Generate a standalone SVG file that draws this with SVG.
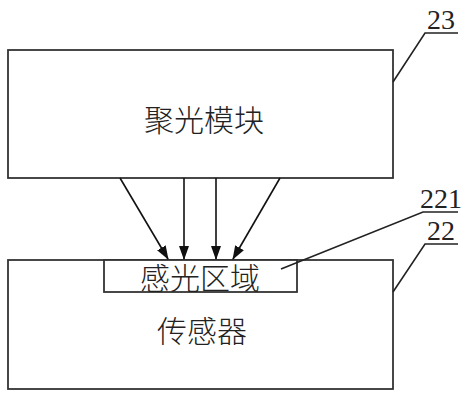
<svg xmlns="http://www.w3.org/2000/svg" width="472" height="400" viewBox="0 0 472 400">
<style>
.box{fill:#fff;stroke:#333;stroke-width:1.8}
.ln{stroke:#222;stroke-width:1.6;fill:none}
.ar{stroke:#111;stroke-width:1.6;fill:none;marker-end:url(#ah)}
.cn{font-family:"Noto Sans CJK SC",sans-serif;fill:#222;text-anchor:middle;font-weight:300;font-size:30px}
.num{font-family:"Liberation Serif",serif;font-size:28px;fill:#222}
</style>
<defs>
<marker id="ah" markerWidth="14" markerHeight="10" refX="13" refY="5" orient="auto" markerUnits="userSpaceOnUse">
<path d="M0,0 L14,5 L0,10 Z" fill="#111"/>
</marker>
</defs>
<rect width="472" height="400" fill="#fff"/>
<g id="n23">
<rect class="box" x="8" y="50" width="385" height="128"/>
<text class="cn" x="204" y="131">聚光模块</text>
</g>
<g id="n22">
<rect class="box" x="8" y="260" width="385" height="129"/>
<text class="cn" x="202" y="342">传感器</text>
</g>
<g id="n221">
<rect class="box" x="104" y="260" width="193" height="32"/>
<text class="cn" x="200" y="289">感光区域</text>
</g>
<g id="labels">
<text class="num" x="427" y="29">23</text>
<text class="num" x="420" y="208">221</text>
<text class="num" x="427" y="240">22</text>
</g>
<g id="connectors">
<line class="ar" x1="120" y1="178" x2="168" y2="259"/>
<line class="ar" x1="184" y1="178" x2="184" y2="259"/>
<line class="ar" x1="216" y1="178" x2="216" y2="259"/>
<line class="ar" x1="280" y1="178" x2="233" y2="259"/>
<polyline class="ln" points="458,33 425,33 393,82"/>
<polyline class="ln" points="458,212 423,212 281,269"/>
<polyline class="ln" points="458,244 425,244 393,292"/>
</g>
</svg>
